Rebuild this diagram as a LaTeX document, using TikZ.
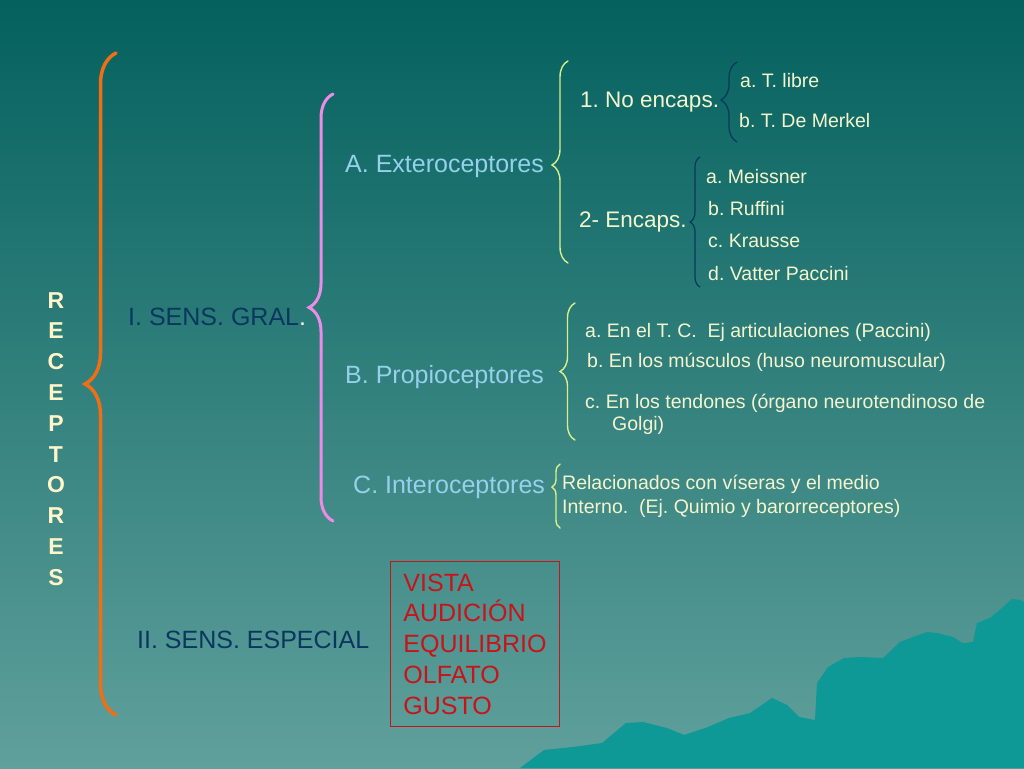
\documentclass[tikz,border=0pt]{standalone}
\usepackage{fontspec}
\setmainfont{Liberation Sans}
\usetikzlibrary{decorations.pathreplacing}
\frenchspacing
\definecolor{bgtop}{RGB}{4,97,94}
\definecolor{bgbot}{RGB}{96,160,156}
\definecolor{mount}{RGB}{14,152,150}
\definecolor{navy}{RGB}{10,55,95}
\definecolor{skyblue}{RGB}{150,208,235}
\definecolor{cream}{RGB}{245,245,205}
\definecolor{recepcol}{RGB}{255,245,200}
\definecolor{braceor}{RGB}{240,110,20}
\definecolor{bracepk}{RGB}{235,140,230}
\definecolor{braceyl}{RGB}{215,240,140}
\definecolor{boxred}{RGB}{200,20,25}

\begin{document}
\begin{tikzpicture}[x=1pt, y=-1pt,
	big/.style={anchor=base west, inner sep=0pt, font=\fontsize{25}{30}\selectfont},
	mid/.style={anchor=base west, inner sep=0pt, text=cream, font=\fontsize{22.5}{27}\selectfont},
	small/.style={anchor=base west, inner sep=0pt, text=cream, font=\fontsize{19.5}{23}\selectfont},
	curly/.style={decorate, line cap=round, decoration={brace, amplitude=#1}}]

		\useasboundingbox (0,0) rectangle (1024,768);
		\shade[top color=bgtop, bottom color=bgbot] (0,0) rectangle (1024,768);

		% mountains
		\fill[mount] (520,768) -- (544,750) -- (573,747) -- (602,743) -- (626,723) -- (643,722) -- (667,728) -- (684,735) -- (708,727) -- (729,718) -- (750,713) -- (772,698) -- (787,705) -- (799,717) -- (815,720) -- (817,683) -- (828,667) -- (844,658) -- (860,657) -- (883,658) -- (900,642) -- (913,637) -- (927,632) -- (937,633) -- (953,637) -- (963,643) -- (973,642) -- (977,623) -- (990,618) -- (1002,608) -- (1012,599) -- (1020,600) -- (1024,602) -- (1024,768) -- cycle;

		% braces
		\draw[braceor, line width=3.5pt, curly=31pt] (116,715) -- (116,53);
		\draw[bracepk, line width=3pt, curly=24pt] (333,521) -- (333,94);
		\draw[braceyl, line width=1.4pt, curly=16pt, decoration={aspect=0.485}] (568,263) -- (568,61);
		\draw[navy, line width=1.2pt, curly=16pt, decoration={aspect=0.525}] (737,142) -- (737,62);
		\draw[navy, line width=1.2pt, curly=10pt] (700,287) -- (700,157);
		\draw[braceyl, line width=1.4pt, curly=15pt] (575,440) -- (575,303);
		\draw[braceyl, line width=1.4pt, curly=8pt, decoration={aspect=0.64}] (560,528) -- (560,464);

		% left column
		\node[anchor=north, inner sep=0pt, align=center, text=recepcol, font=\fontsize{23}{30.8}\selectfont\bfseries] (recep) at (56,292) {R\\E\\C\\E\\P\\T\\O\\R\\E\\S};
		\node[big, text=navy] (gral) at (128,325) {I. SENS. GRAL{\color{white}.}};
		\node[big, text=navy] (especial) at (137,648) {II. SENS. ESPECIAL};

		\node[big, text=skyblue] (extero) at (345,172) {A. Exteroceptores};
		\node[big, text=skyblue] (propio) at (345,383) {B. Propioceptores};
		\node[big, text=skyblue] (intero) at (353,493) {C. Interoceptores};

		\node[mid] (noencaps) at (580,107) {1. No encaps.};
		\node[mid] (encaps) at (579,227) {2- Encaps.};

		\node[small] (libre) at (740,87) {a. T. libre};
		\node[small] (merkel) at (739,127) {b. T. De Merkel};
		\node[small] (meissner) at (706,183) {a. Meissner};
		\node[small] (ruffini) at (708,215) {b. Ruffini};
		\node[small] (krausse) at (708,247) {c. Krausse};
		\node[small] (vatter) at (708,280) {d. Vatter Paccini};

		\node[small] (tc) at (585,337) {a. En el T. C.\ \ Ej articulaciones (Paccini)};
		\node[small] (musculos) at (587,367) {b. En los músculos (huso neuromuscular)};
		\node[small] (tendones) at (585,408) {c. En los tendones (órgano neurotendinoso de};
		\node[small] (golgi) at (612,430) {Golgi)};

		\node[small] (visceras) at (562,489) {Relacionados con víseras y el medio};
		\node[small] (interno) at (562,513) {Interno.\ \ (Ej. Quimio y barorreceptores)};

		% special senses
		\node[draw=boxred, line width=1pt, anchor=north west, inner sep=0pt, minimum width=169pt, minimum height=165pt, align=left, text=boxred, font=\fontsize{25}{30.75}\selectfont] (sentidos) at (390,561) {VISTA\\AUDICIÓN\\EQUILIBRIO\\OLFATO\\GUSTO};

	\end{tikzpicture}
\end{document}
